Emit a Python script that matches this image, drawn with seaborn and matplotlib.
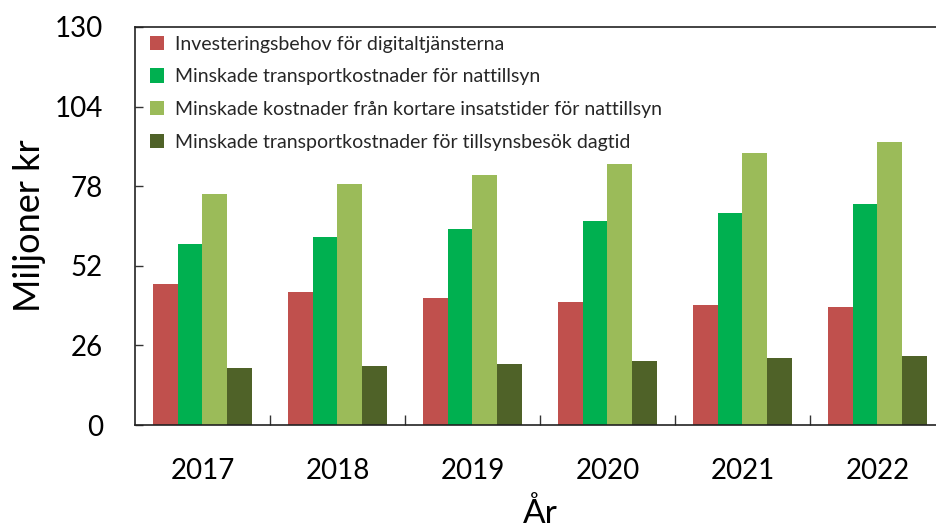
import numpy as np
import pandas as pd
import matplotlib
matplotlib.use("Agg")
import matplotlib.pyplot as plt
import seaborn as sns

years = ["2017", "2018", "2019", "2020", "2021", "2022"]
series_names = [
    "Investeringsbehov för digitaltjänsterna",
    "Minskade transportkostnader för nattillsyn",
    "Minskade kostnader från kortare insatstider för nattillsyn",
    "Minskade transportkostnader för tillsynsbesök dagtid",
]
investering = [45.9, 43.3, 41.6, 40.1, 39.1, 38.4]
transport_natt = [59.2, 61.5, 64.0, 66.7, 69.3, 72.2]
insats_natt = [75.5, 78.6, 81.8, 85.3, 88.7, 92.3]
transport_dag = [18.5, 19.3, 20.0, 20.9, 21.8, 22.6]
colors = ["#C0504D", "#00B050", "#9BBB59", "#4F6228"]
yticks = [0, 26, 52, 78, 104, 130]

values = [investering, transport_natt, insats_natt, transport_dag]
rows = []
for name, vals in zip(series_names, values):
    for y, v in zip(years, vals):
        rows.append({"År": y, "value": v, "series": name})
df = pd.DataFrame(rows)

sns.set_theme(style="white")
plt.rcParams["font.family"] = ["Lato", "DejaVu Sans"]

fig = plt.figure(figsize=(9.37, 5.31), dpi=100)
ax = fig.add_axes([135 / 937, 106 / 531, 810 / 937, 398 / 531])

sns.barplot(data=df, x="År", y="value", hue="series", hue_order=series_names,
            order=years, palette=colors, saturation=1, width=0.733, gap=0,
            edgecolor="none", ax=ax)

ax.set_xlim(-0.5, 5.5)
ax.set_ylim(0, 130)
ax.set_yticks(yticks)
ax.set_yticklabels([str(t) for t in yticks])

ax.set_xticks(range(len(years)))
ax.set_xticklabels(years)
ax.set_xticks([i + 0.5 for i in range(len(years) - 1)], minor=True)
ax.tick_params(axis="x", which="major", length=0, labelsize=20, pad=24, colors="black")
ax.tick_params(axis="x", which="minor", direction="in", length=7, width=1, color="#333333", bottom=True)
ax.tick_params(axis="y", which="major", direction="in", length=6, width=1, labelsize=20,
               pad=23, color="#333333", left=True, labelcolor="black")

for sp in ax.spines.values():
    sp.set_color("#222222")
    sp.set_linewidth(1.2)

ax.set_xlabel("År", fontsize=24, labelpad=10, color="black")
ax.set_ylabel("Miljoner kr", fontsize=26, labelpad=6, color="black")

handles, labels = ax.get_legend_handles_labels()
ax.legend(handles, labels, loc="upper left", bbox_to_anchor=(0.012, 0.99),
          frameon=False, fontsize=14, handlelength=0.75, handleheight=0.75,
          handletextpad=0.55, labelspacing=0.8, borderpad=0.25, borderaxespad=0)

fig.savefig("out.png", dpi=100)
